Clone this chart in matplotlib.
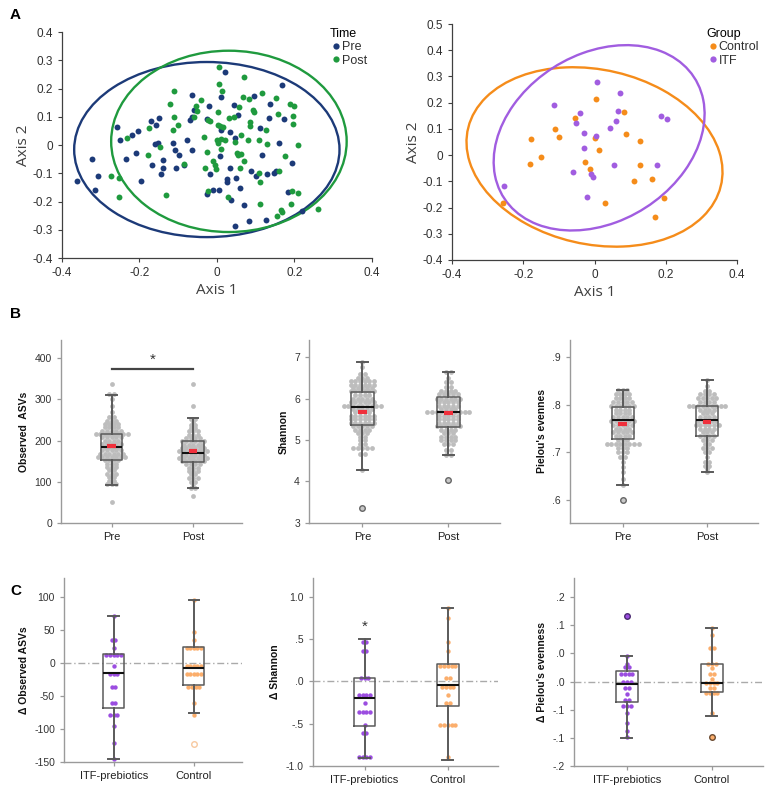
import matplotlib.pyplot as plt
from matplotlib.patches import Ellipse
from matplotlib.lines import Line2D
import numpy as np

plt.rcParams['font.family'] = ['Liberation Sans', 'DejaVu Sans']

# ---------------- A: PCoA (Time) ----------------
pre_x = [0.022, 0.168, -0.065, 0.010, 0.095, 0.043, -0.020, 0.138, -0.060, 0.054,
         -0.065, -0.070, -0.026, -0.150, -0.170, 0.134, 0.174, -0.258, -0.156, 0.011,
         -0.204, -0.220, 0.112, 0.034, -0.250, -0.077, 0.046, -0.160, -0.153, -0.113,
         0.160, -0.107, -0.065, -0.208, -0.097, 0.009, 0.117, -0.234, -0.323, -0.140,
         -0.167, -0.084, -0.106, -0.138, 0.034, 0.194, -0.144, -0.307, -0.017, 0.089,
         0.101, 0.129, 0.148, 0.152, 0.026, 0.049, 0.026, -0.361, -0.196, -0.009,
         0.006, 0.060, -0.316, -0.026, 0.184, 0.036, 0.070, 0.220, 0.082, 0.126,
         0.046]
pre_y = [0.260, 0.213, 0.178, 0.169, 0.172, 0.143, 0.139, 0.147, 0.125, 0.107,
         0.101, 0.090, 0.092, 0.095, 0.084, 0.095, 0.092, 0.064, 0.070, 0.054,
         0.051, 0.037, 0.060, 0.045, 0.019, 0.017, 0.025, 0.005, 0.009, 0.009,
         0.007, -0.017, -0.019, -0.028, -0.034, -0.040, -0.037, -0.048, -0.048, -0.052,
         -0.070, -0.070, -0.081, -0.081, -0.081, -0.064, -0.103, -0.108, -0.101, -0.093,
         -0.111, -0.101, -0.099, -0.093, -0.119, -0.117, -0.131, -0.129, -0.126, -0.158,
         -0.158, -0.152, -0.160, -0.172, -0.168, -0.194, -0.211, -0.235, -0.270, -0.264,
         -0.288]
post_x = [0.006, 0.070, -0.112, 0.006, 0.013, 0.116, 0.067, 0.083, 0.153, -0.040,
          -0.120, -0.054, 0.188, 0.200, -0.051, 0.058, 0.002, 0.092, 0.095, 0.157,
          -0.060, -0.111, 0.030, 0.043, 0.197, -0.024, -0.017, 0.086, 0.197, -0.100,
          0.003, 0.009, 0.017, 0.086, -0.175, -0.114, 0.126, -0.232, -0.033, 0.010,
          0.000, 0.022, 0.063, 0.109, 0.003, 0.047, 0.079, 0.129, 0.209, -0.148,
          0.010, -0.026, 0.052, 0.055, 0.062, -0.177, 0.175, 0.070, -0.010, -0.084,
          -0.032, -0.006, -0.003, 0.060, 0.160, -0.273, -0.252, 0.108, 0.110, -0.023,
          0.195, 0.209, -0.131, -0.253, 0.028, 0.111, 0.190, 0.262, 0.165, 0.168,
          0.154]
post_y = [0.278, 0.240, 0.192, 0.216, 0.193, 0.184, 0.170, 0.163, 0.166, 0.158,
          0.145, 0.137, 0.147, 0.139, 0.122, 0.133, 0.117, 0.125, 0.118, 0.110,
          0.099, 0.099, 0.096, 0.101, 0.103, 0.087, 0.084, 0.080, 0.076, 0.070,
          0.072, 0.068, 0.064, 0.066, 0.060, 0.052, 0.054, 0.025, 0.027, 0.022,
          0.019, 0.019, 0.037, 0.017, 0.009, 0.011, 0.017, 0.005, 0.000, -0.008,
          -0.014, -0.026, -0.028, -0.034, -0.032, -0.035, -0.040, -0.058, -0.058, -0.067,
          -0.081, -0.072, -0.084, -0.083, -0.093, -0.111, -0.117, -0.099, -0.131, -0.162,
          -0.164, -0.170, -0.178, -0.185, -0.185, -0.209, -0.209, -0.227, -0.231, -0.237,
          -0.250]
# ellipses: centre x, centre y, width, height, angle
ell_pre = (-0.026, -0.016, 0.685, 0.620, 0)
ell_post = (0.031, 0.013, 0.608, 0.642, 0)

# ---------------- A: PCoA (Group) ----------------
ctrl_x = [0.005, -0.056, 0.083, -0.112, -0.177, -0.100, 0.088, 0.001, 0.127, 0.014,
          -0.149, -0.180, -0.028, 0.127, -0.012, 0.110, 0.160, 0.029, 0.194, 0.169,
          -0.257]
ctrl_y = [0.215, 0.140, 0.164, 0.098, 0.061, 0.070, 0.081, 0.067, 0.053, 0.019,
          -0.008, -0.034, -0.025, -0.036, -0.053, -0.099, -0.092, -0.183, -0.162, -0.235,
          -0.181]
itf_x = [0.006, 0.071, -0.113, -0.042, 0.066, 0.188, 0.203, -0.052, 0.059, 0.043,
         -0.029, 0.005, -0.029, 0.054, 0.175, -0.060, -0.011, -0.005, -0.020, -0.255]
itf_y = [0.277, 0.238, 0.191, 0.159, 0.170, 0.148, 0.139, 0.123, 0.132, 0.103,
         0.084, 0.071, 0.028, -0.038, -0.039, -0.066, -0.071, -0.083, -0.160, -0.116]
ell_ctrl = (0.000, -0.007, 0.760, 0.638, -36.8)
ell_itf = (0.013, 0.066, 0.746, 0.542, 62.3)

# ---------------- B: alpha diversity, Pre vs Post ----------------
times = ['Pre', 'Post']
asv_pre_v = [312, 300, 285, 270, 258, 248, 240, 232, 224, 216, 208, 200, 192, 184, 176,
             168, 160, 152, 144, 136, 128, 120, 112, 102, 95, 338, 50]
asv_pre_n = [2, 1, 1, 1, 2, 3, 4, 4, 5, 8, 5, 4, 5, 4, 5, 6, 7, 4, 3, 3, 2, 3, 2, 2, 3, 1, 1]
asv_post_v = [253, 245, 238, 230, 222, 214, 206, 198, 190, 182, 174, 166, 158, 150, 142,
              134, 126, 118, 110, 100, 90, 84, 338, 285, 66]
asv_post_n = [2, 1, 2, 2, 3, 3, 4, 6, 5, 6, 7, 6, 7, 6, 4, 3, 3, 2, 3, 2, 1, 2, 1, 1, 1]
asv_box = [dict(whishi=311, q3=217, med=184, q1=152, whislo=93, mean=187),
           dict(whishi=254, q3=199, med=171, q1=147, whislo=84, mean=174)]
asv_out = [[], []]

sh_pre_v = [6.88, 6.75, 6.60, 6.50, 6.42, 6.33, 6.25, 6.17, 6.08, 6.00, 5.92, 5.83, 5.75,
            5.67, 5.58, 5.50, 5.42, 5.33, 5.25, 5.17, 5.08, 5.00, 4.90, 4.80, 4.67, 4.27]
sh_pre_n = [1, 1, 2, 3, 6, 6, 5, 6, 4, 5, 6, 9, 5, 4, 6, 6, 6, 5, 4, 3, 2, 2, 2, 5, 2, 1]
sh_post_v = [6.63, 6.50, 6.40, 6.28, 6.17, 6.10, 6.00, 5.92, 5.83, 5.75, 5.67, 5.58, 5.50,
             5.42, 5.33, 5.25, 5.17, 5.08, 5.00, 4.90, 4.75, 4.63]
sh_post_n = [2, 1, 2, 2, 4, 5, 6, 5, 5, 4, 10, 5, 5, 5, 6, 4, 3, 4, 4, 3, 2, 2]
sh_box = [dict(whishi=6.88, q3=6.15, med=5.80, q1=5.35, whislo=4.27, mean=5.68),
          dict(whishi=6.63, q3=6.03, med=5.67, q1=5.32, whislo=4.63, mean=5.65)]
sh_out = [[3.36], [4.04]]

pi_pre_v = [0.831, 0.822, 0.814, 0.806, 0.798, 0.790, 0.782, 0.774, 0.766, 0.758, 0.750,
            0.742, 0.734, 0.726, 0.718, 0.710, 0.700, 0.690, 0.680, 0.670, 0.660, 0.645, 0.631]
pi_pre_n = [3, 4, 4, 5, 6, 4, 4, 5, 6, 5, 4, 5, 4, 3, 8, 3, 3, 2, 1, 1, 1, 1, 1]
pi_post_v = [0.852, 0.840, 0.830, 0.822, 0.814, 0.806, 0.798, 0.790, 0.782, 0.774, 0.766,
             0.758, 0.750, 0.742, 0.734, 0.726, 0.718, 0.710, 0.700, 0.690, 0.680, 0.672,
             0.665, 0.659]
pi_post_n = [1, 1, 2, 4, 5, 4, 9, 4, 3, 4, 5, 6, 4, 3, 4, 3, 2, 3, 2, 1, 2, 2, 1, 1]
pi_box = [dict(whishi=0.831, q3=0.796, med=0.768, q1=0.728, whislo=0.631, mean=0.760),
          dict(whishi=0.852, q3=0.798, med=0.768, q1=0.735, whislo=0.659, mean=0.764)]
pi_out = [[0.600], []]

# ---------------- C: change by group ----------------
groups = ['ITF-prebiotics', 'Control']
d_asv_itf_v = [72, 35, 23, 12, -4, -17, -36, -60, -78, -95, -121, -145]
d_asv_itf_n = [1, 2, 1, 5, 1, 3, 2, 2, 3, 1, 1, 1]
d_asv_ctl_v = [95, 47, 35, 23, -4, -17, -36, -60, -78]
d_asv_ctl_n = [1, 1, 1, 5, 5, 5, 4, 1, 1]
d_asv_box = [dict(whishi=72, q3=14, med=-15, q1=-68, whislo=-145),
             dict(whishi=95, q3=25, med=-8, q1=-33, whislo=-75)]
d_asv_out = [[], [-123]]

d_sh_itf_v = [0.47, 0.36, 0.04, -0.16, -0.25, -0.36, -0.51, -0.61, -0.89]
d_sh_itf_n = [2, 2, 3, 4, 1, 4, 1, 2, 4]
d_sh_ctl_v = [0.87, 0.75, 0.47, 0.36, 0.18, 0.04, -0.07, -0.16, -0.25, -0.51, -0.89]
d_sh_ctl_n = [1, 1, 1, 1, 5, 2, 4, 1, 2, 5, 1]
d_sh_box = [dict(whishi=0.498, q3=0.04, med=-0.20, q1=-0.53, whislo=-0.91),
            dict(whishi=0.87, q3=0.21, med=-0.036, q1=-0.29, whislo=-0.93)]
d_sh_out = [[], []]

d_pi_itf_v = [0.045, 0.032, 0.025, 0.014, 0.000, -0.012, -0.022, -0.032, -0.043, -0.056,
              -0.074, -0.088, -0.099]
d_pi_itf_n = [1, 1, 2, 4, 3, 2, 1, 2, 3, 1, 1, 1, 1]
d_pi_ctl_v = [0.095, 0.082, 0.060, 0.032, 0.024, 0.014, 0.005, -0.003, -0.012, -0.021, -0.056]
d_pi_ctl_n = [1, 1, 2, 3, 1, 2, 1, 4, 2, 4, 1]
d_pi_box = [dict(whishi=0.045, q3=0.018, med=-0.004, q1=-0.036, whislo=-0.100),
            dict(whishi=0.095, q3=0.031, med=-0.003, q1=-0.019, whislo=-0.061)]
d_pi_out = [[0.117], [-0.099]]

# colours
c_pre, c_post = '#1c3a78', '#1f9a3e'
c_ctrl, c_itf = '#f58c1a', '#a15de0'
c_dot_itf, c_dot_ctl = '#9b4de0', '#fbae6c'
c_dot_grey = '#bdbdbd'

fig = plt.figure(figsize=(7.67, 7.90), dpi=100)


def pcoa(ax, sets, ells, ylim, yticks, title, labels, legpos):
    for (x, y, c), e in zip(sets, ells):
        ax.scatter(x, y, s=18, color=c, lw=0, zorder=3)
        ax.add_patch(Ellipse((e[0], e[1]), e[2], e[3], angle=e[4], fill=False,
                             ec=c, lw=1.7, zorder=2))
    ax.set_xlim(-0.4, 0.4)
    ax.set_ylim(*ylim)
    ax.set_xticks([-0.4, -0.2, 0, 0.2, 0.4])
    ax.set_xticklabels(['-0.4', '-0.2', '0', '0.2', '0.4'])
    ax.set_yticks(yticks)
    ax.set_yticklabels(['0' if abs(t) < 1e-9 else f'{t:.1f}' for t in yticks])
    for s in ['top', 'right']:
        ax.spines[s].set_visible(False)
    for s in ['left', 'bottom']:
        ax.spines[s].set_color('#404040')
        ax.spines[s].set_linewidth(0.9)
    ax.tick_params(labelsize=8.5, colors='#404040', length=3, width=0.8,
                   labelcolor='#303030')
    ax.set_xlabel('Axis 1', fontsize=11, color='#404040', labelpad=3,
                  family=['Open Sans', 'DejaVu Sans'])
    ax.set_ylabel('Axis 2', fontsize=11, color='#404040', labelpad=1,
                  family=['Open Sans', 'DejaVu Sans'])
    h = [Line2D([], [], marker='o', ls='', ms=4.5, mec='none', color=c) for _, _, c in sets]
    leg = ax.legend(h, labels, title=title, loc='upper left', bbox_to_anchor=legpos,
                    bbox_transform=fig.transFigure, frameon=False, fontsize=9,
                    title_fontsize=9, handletextpad=0.0, handlelength=1.0,
                    labelspacing=0.1, borderpad=0, alignment='left')
    for t in leg.get_texts():
        t.set_color('#303030')


axA1 = fig.add_axes([0.0808, 0.6734, 0.404, 0.286])
pcoa(axA1, [(pre_x, pre_y, c_pre), (post_x, post_y, c_post)], [ell_pre, ell_post],
     (-0.4, 0.4), np.round(np.arange(-0.4, 0.41, 0.1), 1), 'Time', ['Pre', 'Post'],
     (323 / 767, 1 - 22 / 790))
axA2 = fig.add_axes([0.5893, 0.6709, 0.3716, 0.2987])
pcoa(axA2, [(ctrl_x, ctrl_y, c_ctrl), (itf_x, itf_y, c_itf)], [ell_ctrl, ell_itf],
     (-0.4, 0.5), np.round(np.arange(-0.4, 0.51, 0.1), 1), 'Group', ['Control', 'ITF'],
     (700 / 767, 1 - 22 / 790))


def strip(ax, xc, vals, cnts, color, sp, s):
    for v, n in zip(vals, cnts):
        off = (np.arange(n) - (n - 1) / 2) * sp
        ax.scatter(xc + off, np.full(n, v), s=s, color=color, lw=0, zorder=2)


def box_panel(ax, rows, stats, outs, cats, ylim, yticks, yticklabels, ylabel,
              dot_colors, out_style, sp, ds, mean=False, zero=False):
    for i, (v, n) in enumerate(rows):
        strip(ax, i, v, n, dot_colors[i], sp, ds)
    st = [dict(s, fliers=[]) for s in stats]
    ax.bxp(st, positions=[0, 1], widths=0.26, showfliers=False, showmeans=False,
           boxprops=dict(color='#5a5a5a', lw=1.1),
           medianprops=dict(color='#111111', lw=1.5),
           whiskerprops=dict(color='#5a5a5a', lw=1.4),
           capprops=dict(color='#5a5a5a', lw=1.4), capwidths=0.13,
           manage_ticks=False)
    for i, o in enumerate(outs):
        if o:
            fc, ec = out_style[i]
            ax.scatter(np.full(len(o), i), o, s=16, fc=fc, ec=ec, lw=1.0, zorder=3)
    if mean:
        for i, s in enumerate(stats):
            ax.plot([i - 0.05, i + 0.05], [s['mean'], s['mean']], color='#f0303c',
                    lw=3, solid_capstyle='butt', zorder=4)
    if zero:
        ax.axhline(0, color='#aaaaaa', lw=1, ls=(0, (5, 2, 1, 2)), zorder=1)
    ax.set_xlim(-0.62, 1.6)
    ax.set_ylim(*ylim)
    ax.set_xticks([0, 1])
    ax.set_xticklabels(cats, fontsize=8, color='#222222')
    ax.set_yticks(yticks)
    ax.set_yticklabels(yticklabels, fontsize=7.5, color='#333333')
    ax.set_ylabel(ylabel, fontsize=7.5, fontweight='bold', color='#111111')
    for s in ['top', 'right']:
        ax.spines[s].set_visible(False)
    for s in ['left', 'bottom']:
        ax.spines[s].set_color('#9a9a9a')
        ax.spines[s].set_linewidth(1.0)
    ax.tick_params(color='#9a9a9a', length=3, width=0.9)


grey2 = [c_dot_grey, c_dot_grey]
out_grey = [('#c8c8c8', '#666666'), ('#c8c8c8', '#666666')]

axB1 = fig.add_axes([0.0795, 0.338, 0.236, 0.2316])
box_panel(axB1, [(asv_pre_v, asv_pre_n), (asv_post_v, asv_post_n)], asv_box, asv_out,
          times, (0, 444), [0, 100, 200, 300, 400], ['0', '100', '200', '300', '400'],
          'Observed  ASVs', grey2, out_grey, 0.056, 12, mean=True)
axB1.plot([0, 1], [373, 373], color='#444444', lw=1.6)
axB1.text(0.5, 380, '*', ha='center', va='bottom', fontsize=11, color='#333333')

axB2 = fig.add_axes([0.4029, 0.338, 0.249, 0.2316])
box_panel(axB2, [(sh_pre_v, sh_pre_n), (sh_post_v, sh_post_n)], sh_box, sh_out,
          times, (3, 7.41), [3, 4, 5, 6, 7], ['3', '4', '5', '6', '7'],
          'Shannon', grey2, out_grey, 0.054, 12, mean=True)

axB3 = fig.add_axes([0.7432, 0.338, 0.245, 0.2316])
box_panel(axB3, [(pi_pre_v, pi_pre_n), (pi_post_v, pi_post_n)], pi_box, pi_out,
          times, (0.552, 0.936), [0.6, 0.7, 0.8, 0.9], ['.6', '.7', '.8', '.9'],
          "Pielou's evennes", grey2, out_grey, 0.054, 12, mean=True)

grp_dots = [c_dot_itf, c_dot_ctl]

axC1 = fig.add_axes([0.0834, 0.0354, 0.232, 0.233])
box_panel(axC1, [(d_asv_itf_v, d_asv_itf_n), (d_asv_ctl_v, d_asv_ctl_n)], d_asv_box,
          d_asv_out, groups, (-150, 129), [-150, -100, -50, 0, 50, 100],
          ['-150', '-100', '-50', '0', '50', '100'], 'Δ Observed ASVs', grp_dots,
          [None, ('#ffffff', '#f7c9a0')], 0.045, 10, zero=True)

axC2 = fig.add_axes([0.408, 0.0304, 0.241, 0.238])
box_panel(axC2, [(d_sh_itf_v, d_sh_itf_n), (d_sh_ctl_v, d_sh_ctl_n)], d_sh_box,
          d_sh_out, groups, (-1.0, 1.225), [-1.0, -0.5, 0, 0.5, 1.0],
          ['-1.0', '-.5', '.0', '.5', '1.0'], 'Δ Shannon', grp_dots,
          [None, None], 0.045, 10, zero=True)
axC2.text(0, 0.56, '*', ha='center', va='bottom', fontsize=11, color='#333333')

axC3 = fig.add_axes([0.7484, 0.0304, 0.246, 0.238])
box_panel(axC3, [(d_pi_itf_v, d_pi_itf_n), (d_pi_ctl_v, d_pi_ctl_n)], d_pi_box,
          d_pi_out, groups, (-0.15, 0.184), [-0.15, -0.10, -0.05, 0, 0.05, 0.10, 0.15],
          ['-.2', '-.1', '-.1', '.0', '.0', '.1', '.2'], "Δ Pielou's evenness", grp_dots,
          [('#9b4de0', '#4a2a70'), ('#fbae6c', '#6a4a30')], 0.045, 10, zero=True)

# panel letters
fig.text(0.013, 1 - 15 / 790, 'A', fontsize=11, fontweight='bold', va='center')
fig.text(0.013, 1 - 314 / 790, 'B', fontsize=11, fontweight='bold', va='center')
fig.text(0.013, 1 - 591 / 790, 'C', fontsize=11, fontweight='bold', va='center')

fig.savefig('out.png', dpi=100)
